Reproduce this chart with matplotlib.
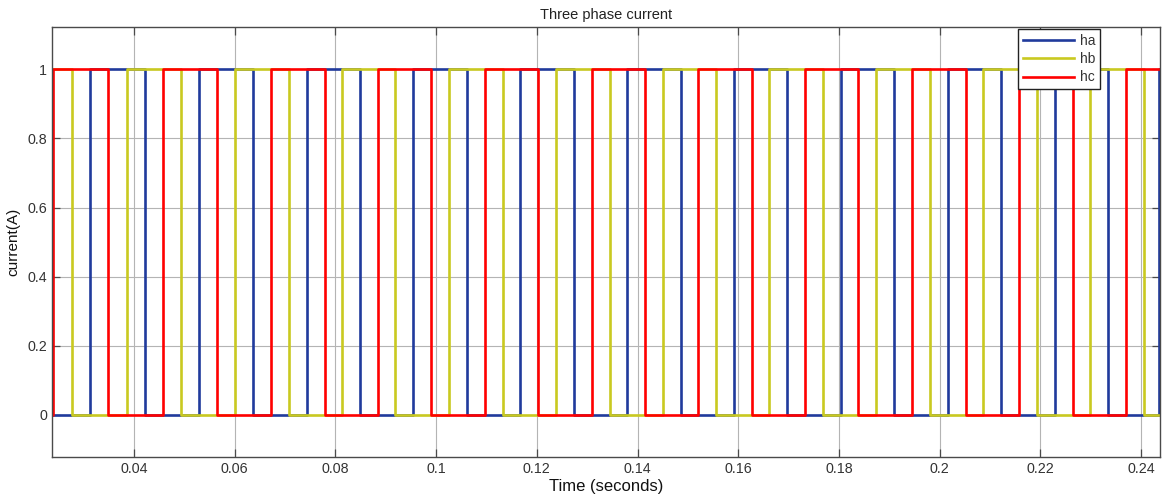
import matplotlib
matplotlib.use('Agg')
import matplotlib.pyplot as plt
import numpy as np

plt.rcParams['font.family'] = ['Liberation Sans', 'DejaVu Sans']

# 读图得到的各相跳变时刻 (s)
ha_edges = [0.03126, 0.04218, 0.05297, 0.06363, 0.07430, 0.08495, 0.09547,
            0.10608, 0.11672, 0.12739, 0.13797, 0.14858, 0.15917, 0.16975,
            0.18036, 0.19100, 0.20167, 0.21220, 0.22286, 0.23345, 0.24365]
hb_edges = [0.02769, 0.03855, 0.04939, 0.06006, 0.07078, 0.08137, 0.09190,
            0.10250, 0.11323, 0.12381, 0.13448, 0.14500, 0.15559, 0.16618,
            0.17690, 0.18743, 0.19803, 0.20868, 0.21934, 0.22993, 0.24060]
hc_edges = [0.02397, 0.03478, 0.04576, 0.05648, 0.06715, 0.07788, 0.08846,
            0.09899, 0.10965, 0.12024, 0.13102, 0.14149, 0.15208, 0.16274,
            0.17327, 0.18385, 0.19452, 0.20524, 0.21583, 0.22643, 0.23702]
# 起始电平
ha_start = 0
hb_start = 1
hc_start = 0

t_begin = 0.020
t_end = 0.250

x_ticks = [0.04, 0.06, 0.08, 0.1, 0.12, 0.14, 0.16, 0.18, 0.2, 0.22, 0.24]
x_tick_labels = ['0.04', '0.06', '0.08', '0.1', '0.12', '0.14', '0.16',
                 '0.18', '0.2', '0.22', '0.24']
y_ticks = [0, 0.2, 0.4, 0.6, 0.8, 1]
y_tick_labels = ['0', '0.2', '0.4', '0.6', '0.8', '1']


def square_wave(edges, start):
    """由跳变时刻生成阶梯波"""
    t = [t_begin] + list(edges) + [t_end]
    levels = []
    v = start
    for _ in range(len(edges) + 1):
        levels.append(v)
        v = 1 - v
    levels.append(levels[-1])
    return np.array(t), np.array(levels)


fig = plt.figure(figsize=(11.62, 4.99), dpi=100)
ax = fig.add_axes([0.0448, 0.0836, 0.9535, 0.8623])

series = [
    ('ha', ha_edges, ha_start, '#203a9c'),
    ('hb', hb_edges, hb_start, '#c9c920'),
    ('hc', hc_edges, hc_start, '#ff0000'),
]
for name, edges, start, color in series:
    t, y = square_wave(edges, start)
    ax.plot(t, y, drawstyle='steps-post', color=color, linewidth=1.9, label=name)

ax.set_xlim(0.0237, 0.2438)
ax.set_ylim(-0.1225, 1.1225)
ax.set_xticks(x_ticks)
ax.set_xticklabels(x_tick_labels)
ax.set_yticks(y_ticks)
ax.set_yticklabels(y_tick_labels)

ax.grid(True, color='#b4b4b4', linewidth=0.8)
ax.set_axisbelow(True)
for sp in ax.spines.values():
    sp.set_color('#4a4a4a')
    sp.set_linewidth(1.0)
ax.tick_params(direction='in', length=6, width=0.9, colors='#4a4a4a',
               labelcolor='#333333', labelsize=10.3, top=True, right=True)

ax.set_title('Three phase current', fontsize=10.5, color='#222222', pad=6)
ax.set_xlabel('Time (seconds)', fontsize=12, color='#111111', labelpad=2)
ax.set_ylabel('current(A)', fontsize=11, color='#111111', labelpad=5)

leg = ax.legend(loc='upper right', bbox_to_anchor=(0.9458, 0.9947),
                borderaxespad=0, fontsize=10, handlelength=3.7,
                labelspacing=0.3, handletextpad=0.4, borderpad=0.35,
                fancybox=False, framealpha=1)
leg.get_frame().set_edgecolor('#222222')
leg.get_frame().set_linewidth(1.0)
for txt in leg.get_texts():
    txt.set_color('#333333')

fig.savefig('out.png', dpi=100, facecolor='white')
